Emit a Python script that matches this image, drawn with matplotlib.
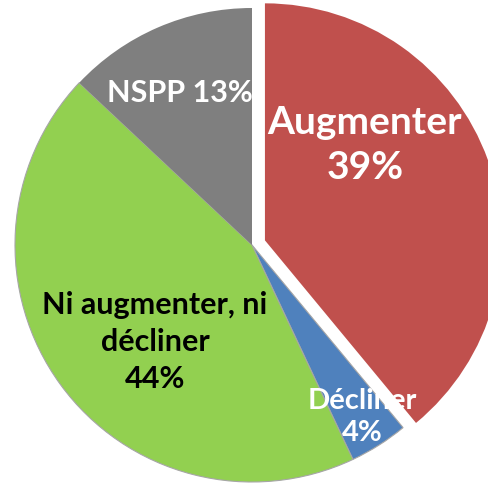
import matplotlib.pyplot as plt

# data
categories = ["Augmenter", "Décliner", "Ni augmenter, ni\ndécliner", "NSPP"]
shares = [39, 4, 44, 13]
colors = ["#C0504D", "#4F81BD", "#92D050", "#7F7F7F"]

plt.rcParams["font.family"] = ["Lato", "DejaVu Sans"]

fig = plt.figure(figsize=(4.88, 4.84), dpi=100)
ax = fig.add_axes([0, 0, 1, 1])

radius = 237
# pie's explode offset is in data units, not scaled by radius
explode = [0.058 * radius, 0, 0, 0]
wedges, _ = ax.pie(shares, colors=colors, startangle=90, counterclock=False,
                   explode=explode, radius=radius,
                   wedgeprops=dict(linewidth=0))

# thin gray outline on the lower slices, like the original
for w in wedges[1:3]:
    w.set_edgecolor("#A6A6A6")
    w.set_linewidth(0.8)

ax.set_xlim(-252, 236)
ax.set_ylim(-239, 245)
ax.set_aspect("equal")
ax.axis("off")

# labels
ax.text(113, 100, f"{categories[0]}\n{shares[0]}%", color="white", fontsize=28,
        fontweight="bold", ha="center", va="center", linespacing=1.35)
ax.text(110, -172, f"{categories[1]}\n{shares[1]}%", color="white", fontsize=21,
        fontweight="bold", ha="center", va="center", linespacing=1.3)
ax.text(-97, -97, f"{categories[2]}\n{shares[2]}%", color="black", fontsize=22,
        fontweight="bold", ha="center", va="center", linespacing=1.38)
ax.text(-72, 152, f"{categories[3]} {shares[3]}%", color="white", fontsize=22,
        fontweight="bold", ha="center", va="center")

fig.savefig("out.png", dpi=100)
